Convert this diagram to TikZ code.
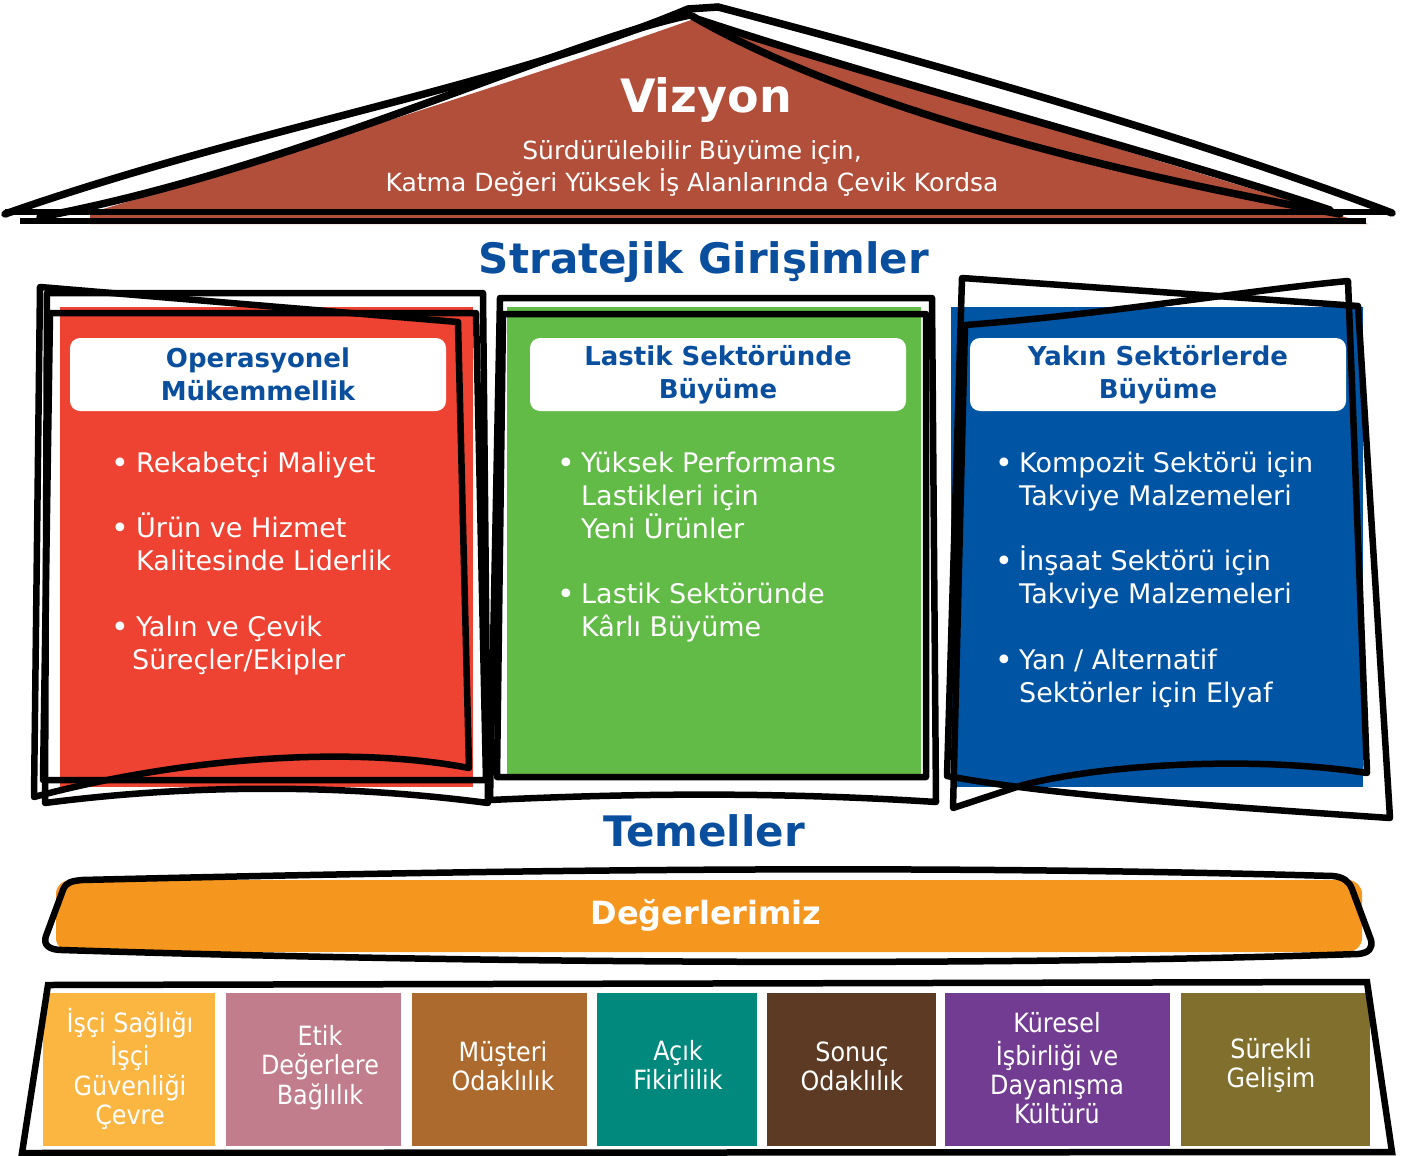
\documentclass[tikz,border=0pt]{standalone}
\usepackage{fontspec}
\setmainfont{DejaVu Sans}
\usepackage{graphicx}
\definecolor{roofred}{HTML}{B24F3B}
\definecolor{titleblue}{HTML}{0A4F9E}
\definecolor{redbox}{HTML}{EE4232}
\definecolor{greenbox}{HTML}{62BA47}
\definecolor{bluebox}{HTML}{0054A4}
\definecolor{orangeband}{HTML}{F5961F}
\definecolor{cA}{HTML}{FBB541}
\definecolor{cB}{HTML}{C17D8B}
\definecolor{cC}{HTML}{AD6A2E}
\definecolor{cD}{HTML}{01897D}
\definecolor{cE}{HTML}{5D3A23}
\definecolor{cF}{HTML}{733C93}
\definecolor{cG}{HTML}{81702D}
\begin{document}
\begin{tikzpicture}[x=1pt,y=-1pt,
  sketch/.style={draw=black,line width=6.5pt,line join=round,line cap=round},
  roofline/.style={draw=black,line width=7.5pt,line join=round,line cap=round},
  hdr/.style={fill=white,rounded corners=10pt,minimum width=376pt,minimum height=73pt,inner sep=0pt,align=center,text=titleblue,font=\fontsize{26}{33}\bfseries\selectfont},
  btxt/.style={anchor=base west,inner sep=0pt,text=white,font=\fontsize{27}{33}\selectfont},
  bdot/.style={anchor=base west,inner sep=0pt,text=white,font=\fontsize{30}{33}\selectfont},
  val/.style={inner sep=0pt,text=white,font=\fontsize{26.5}{29.3}\selectfont},
  bigtitle/.style={inner sep=0pt,text=titleblue,font=\fontsize{42}{50}\bfseries\selectfont}]
\useasboundingbox (0,0) rectangle (1405,1156);

% ---------- roof ----------
\fill[roofred] (90,213) .. controls (300,150) and (550,70) .. (691,20) -- (1368,224) -- (90,224) -- cycle;
\draw[roofline] (5,214) .. controls (250,128) and (500,88) .. (688,9);
\draw[roofline] (40,217) .. controls (300,168) and (560,42) .. (690,15);
\draw[roofline] (688,9) -- (718,7);
\draw[roofline] (718,7) .. controls (950,68) and (1200,140) .. (1392,213);
\draw[roofline] (692,16) .. controls (820,90) and (1040,160) .. (1340,214);
\draw[roofline] (700,20) .. controls (900,86) and (1150,150) .. (1330,210);
\draw[black,line width=6.5pt] (5,212) -- (1392,212);
\draw[black,line width=6.5pt] (20,221) -- (1366,221);
\node[inner sep=0pt,text=white,font=\fontsize{46}{54}\bfseries\selectfont] (viz) at (706,100) {Vizyon};
\node[inner sep=0pt,text=white,font=\fontsize{25}{30}\selectfont] (viz1) at (692,153) {Sürdürülebilir Büyüme için,};
\node[inner sep=0pt,text=white,font=\fontsize{25}{30}\selectfont] (viz2) at (692,183) {Katma Değeri Yüksek İş Alanlarında Çevik Kordsa};

\node[bigtitle] (strat) at (704,262) {Stratejik Girişimler};

% ---------- three pillars: fills ----------
\fill[redbox] (60,307) rectangle (473,787);
\fill[greenbox] (507,307) rectangle (921,779);
\fill[bluebox] (951,307) rectangle (1363,787);

% red outlines
\draw[sketch] (40,287) -- (458,322) -- (469,768) .. controls (350,745) and (180,758) .. (34,797) -- cycle;
\draw[sketch] (47,293) -- (483,293) -- (488,803) .. controls (350,785) and (200,783) .. (45,803) -- cycle;
\draw[sketch] (50,313) -- (476,313) -- (486,780) -- (43,780) -- cycle;
% green outlines
\draw[sketch] (500,298) -- (932,298) -- (936,802) .. controls (780,792) and (640,793) .. (490,800) -- cycle;
\draw[sketch] (503,314) -- (926,314) -- (926,777) -- (497,777) -- cycle;
% blue outlines
\draw[sketch] (962,278) -- (1358,306) -- (1390,818) .. controls (1200,805) and (1050,795) .. (947,776) -- cycle;
\draw[sketch] (965,325) .. controls (1100,315) and (1250,290) .. (1348,281) -- (1367,773) .. controls (1250,755) and (1100,765) .. (1023,785) -- (953,808) -- cycle;

% headers
\node[hdr] (h1) at (258,374.5) {Operasyonel\\Mükemmellik};
\node[hdr] (h2) at (718,374.5) {Lastik Sektöründe\\Büyüme};
\node[hdr] (h3) at (1158,374.5) {Yakın Sektörlerde\\Büyüme};

% red bullets
\node[bdot] (r1d) at (111,473) {•};
\node[btxt] (r1) at (136,472.5) {Rekabetçi Maliyet};
\node[bdot] (r2d) at (111,538) {•};
\node[btxt] (r2a) at (136,537.5) {Ürün ve Hizmet};
\node[btxt] (r2b) at (136,570.5) {Kalitesinde Liderlik};
\node[bdot] (r3d) at (111,637) {•};
\node[btxt] (r3a) at (136,636.5) {Yalın ve Çevik};
\node[btxt] (r3b) at (132,669.5) {Süreçler/Ekipler};
% green bullets
\node[bdot] (g1d) at (557,473) {•};
\node[btxt] (g1a) at (581,472.5) {Yüksek Performans};
\node[btxt] (g1b) at (581,505.5) {Lastikleri için};
\node[btxt] (g1c) at (581,538.5) {Yeni Ürünler};
\node[bdot] (g2d) at (557,604) {•};
\node[btxt] (g2a) at (581,603.5) {Lastik Sektöründe};
\node[btxt] (g2b) at (581,636.5) {Kârlı Büyüme};
% blue bullets
\node[bdot] (b1d) at (995,473) {•};
\node[btxt] (b1a) at (1019,472.5) {Kompozit Sektörü için};
\node[btxt] (b1b) at (1019,505.5) {Takviye Malzemeleri};
\node[bdot] (b2d) at (995,571) {•};
\node[btxt] (b2a) at (1019,570.5) {İnşaat Sektörü için};
\node[btxt] (b2b) at (1019,603.5) {Takviye Malzemeleri};
\node[bdot] (b3d) at (995,670) {•};
\node[btxt] (b3a) at (1019,669.5) {Yan / Alternatif};
\node[btxt] (b3b) at (1019,702.5) {Sektörler için Elyaf};

% ---------- foundations ----------
\node[bigtitle] (temel) at (704,831) {Temeller};

\fill[orangeband,rounded corners=14pt] (56,880) rectangle (1362,952);
\draw[sketch] (62,950) .. controls (48,950) and (43,944) .. (46,936) -- (63,890)
  .. controls (66,882) and (72,881) .. (82,880)
  .. controls (500,870) and (900,864) .. (1333,876)
  .. controls (1343,877) and (1349,881) .. (1352,889) -- (1371,940)
  .. controls (1373,948) and (1369,953) .. (1358,954)
  .. controls (1000,966) and (500,964) .. (62,950) -- cycle;
\node[inner sep=0pt,text=white,font=\fontsize{32}{38}\bfseries\selectfont] (deg) at (706,915) {Değerlerimiz};

\fill[cA] (43,993) rectangle (215,1146);
\fill[cB] (226,993) rectangle (401,1146);
\fill[cC] (412,993) rectangle (587,1146);
\fill[cD] (597,993) rectangle (757,1146);
\fill[cE] (767,993) rectangle (936,1146);
\fill[cF] (945,993) rectangle (1170,1146);
\fill[cG] (1181,993) rectangle (1370,1146);
\draw[sketch,line join=miter] (48,985) -- (1367,982) -- (1392,1152) -- (22,1153) -- cycle;

\node[val] (v1) at (130,1071) {\scalebox{0.9}[1]{\begin{tabular}{@{}c@{}}İşçi Sağlığı\\İşçi\\Güvenliği\\Çevre\end{tabular}}};
\node[val] (v2) at (320,1069) {\scalebox{0.9}[1]{\begin{tabular}{@{}c@{}}Etik\\Değerlere\\Bağlılık\end{tabular}}};
\node[val] (v3) at (503,1070) {\scalebox{0.9}[1]{\begin{tabular}{@{}c@{}}Müşteri\\Odaklılık\end{tabular}}};
\node[val] (v4) at (678,1069) {\scalebox{0.9}[1]{\begin{tabular}{@{}c@{}}Açık\\Fikirlilik\end{tabular}}};
\node[val] (v5) at (852,1070) {\scalebox{0.9}[1]{\begin{tabular}{@{}c@{}}Sonuç\\Odaklılık\end{tabular}}};
\node[val] (v6) at (1057,1072) {\scalebox{0.9}[1]{\begin{tabular}{@{}c@{}}Küresel\\İşbirliği ve\\Dayanışma\\Kültürü\end{tabular}}};
\node[val] (v7) at (1271,1067) {\scalebox{0.9}[1]{\begin{tabular}{@{}c@{}}Sürekli\\Gelişim\end{tabular}}};
\end{tikzpicture}
\end{document}
